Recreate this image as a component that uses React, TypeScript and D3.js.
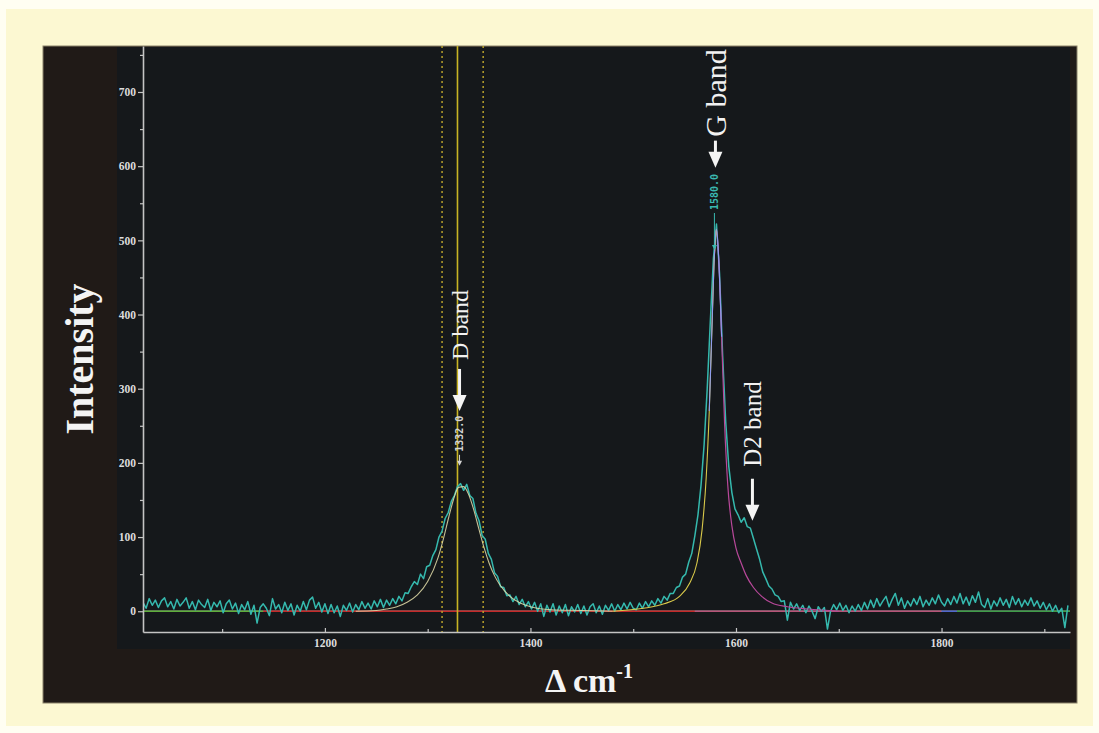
import React, { useEffect, useRef } from 'react';
import * as d3 from 'd3';

// Raman spectrum (intensity, one value every 3 cm-1 from 1023)
const RAMAN_START = 1023;
const RAMAN_STEP = 3;
const intensity: number[] = [
  // 1023–1140
  12, 4, 17, 8, 15, 5, 14, 18, 6, 13,
  3, 16, 7, 12, 18, 4, 13, 2, 15, 9,
  5, 16, 1, 12, 6, 14, -2, 10, 15, 3,
  11, -3, 9, 2, 13, -4, 8, -16, 5, 10,
  // 1143–1260
  4, -6, 17, 3, 9, -2, 12, 1, 10, -5,
  8, 0, 13, 2, 15, 19, 4, 12, -1, 10,
  -3, 9, -2, 7, -7, 8, 1, 11, -1, 9,
  2, 13, 4, 11, 3, 14, 6, 16, 5, 15,
  // 1263–1380 (D band)
  8, 17, 10, 20, 14, 25, 24, 33, 40, 36,
  50, 44, 60, 62, 75, 83, 100, 108, 125, 133,
  148, 156, 168, 172, 163, 171, 156, 152, 132, 122,
  102, 97, 78, 70, 52, 47, 33, 32, 21, 22,
  // 1383–1500
  13, 20, 9, 16, 6, 13, 3, 12, 0, 10,
  -7, 8, -1, 10, -5, 7, -2, 9, -6, 6,
  -1, 9, -3, 7, -5, 6, 10, -2, 7, -4,
  8, 1, 10, 0, 9, 2, 11, 3, 12, 4,
  // 1503–1620 (G band + D2 shoulder)
  2, 11, 4, 13, 6, 14, 8, 17, 11, 20,
  15, 24, 24, 32, 34, 46, 50, 66, 78, 102,
  130, 170, 225, 300, 390, 475, 522, 455, 345, 255,
  195, 160, 138, 130, 120, 126, 114, 112, 98, 84,
  // 1623–1740
  70, 53, 44, 34, 30, 22, 20, 13, 14, -12,
  12, 3, 10, 1, 8, -2, 7, 0, -10, 6,
  0, 5, -24, 0, 9, 2, 11, 1, 8, -2,
  7, 0, 9, 1, 12, 3, 15, 5, 17, 7,
  // 1743–1860
  14, 20, 6, 16, 24, 8, 18, 4, 14, 7,
  17, 9, 20, 6, 15, 8, 18, 10, 22, 12,
  7, 17, 9, 20, 11, 24, 10, 19, 8, 21,
  12, 26, 9, 5, 17, 3, 14, 7, 18, 8,
  // 1863–1923
  16, 5, 20, 9, 17, 6, 15, 8, 18, 7,
  14, 4, 12, 2, 10, 0, 8, -2, 4, -22, 8,
];

// fitted components
const dFitX = [1230, 1250, 1260, 1270, 1280, 1290, 1300, 1310, 1315, 1320, 1325, 1330, 1335, 1340, 1345, 1350, 1355, 1360, 1365, 1370, 1380, 1390, 1400, 1420, 1450, 1480];
const dFitY = [0, 1, 3, 6, 12, 22, 40, 72, 96, 124, 150, 167, 168, 157, 136, 110, 85, 64, 48, 36, 20, 11, 6, 2, 1, 0];
const gFitX = [1480, 1510, 1530, 1545, 1555, 1562, 1567, 1571, 1574, 1577, 1579, 1581, 1583, 1586, 1589, 1592, 1596, 1600, 1605, 1610, 1617, 1625, 1635, 1650, 1670, 1700];
const gFitY = [0, 4, 10, 20, 38, 65, 110, 180, 270, 400, 480, 515, 480, 370, 250, 170, 115, 85, 65, 48, 32, 20, 11, 6, 3, 0];

// axes
const xTicks = [1200, 1400, 1600, 1800];
const xMinorTicks = [1100, 1300, 1500, 1700, 1900];
const yTicks = [0, 100, 200, 300, 400, 500, 600, 700];
const yMinorTicks = [50, 150, 250, 350, 450, 550, 650, 750];

// D band cursor and window
const dMarker = 1329;
const dWindow = [1314, 1354];

// baseline pieces at zero
const baselineBreaks = [1023, 1140, 1560, 1800, 1815, 1925];
const BASELINE_COLORS = ['#5fae3c', '#c42a2a', '#b65478', '#4b63d0', '#3f9c48'];

// annotations
const bandLabels = ['D band', 'G band', 'D2 band'];
const bandPositions = [1331, 1580, 1616];
const bandArrowTips = [270, 598, 122];
const peakLabels = ['1332.0', '1580.0'];
const peakPositions = [1331, 1579];
const peakTips = [196, 487];

const W = 1099;
const H = 733;
const PLOT = { left: 143, right: 1070, top: 46, bottom: 632 };
const ARROW_LEN = [42, 27, 42];
const TEXT_GAP = [9, 4, 12];
const BAND_FONT = [24, 30, 25];
const PEAK_LINE = [11, 37];
const PEAK_COLORS = ['#d4d4d4', '#3ab8b0'];
const SERIF = "'Liberation Serif', 'DejaVu Serif', serif";

const App = () => {
  const svgRef = useRef<SVGSVGElement>(null);

  useEffect(() => {
    const svg = d3.select(svgRef.current);
    svg.selectAll('*').remove();

    // page + frame
    svg.append('rect').attr('width', W).attr('height', H).attr('fill', '#fffef2');
    svg.append('rect').attr('x', 6).attr('y', 9).attr('width', W - 12).attr('height', H - 16).attr('fill', '#fcf8d2');
    svg.append('rect')
      .attr('x', 43).attr('y', 46).attr('width', 1034).attr('height', 657)
      .attr('fill', '#201a17').attr('stroke', '#8a826a').attr('stroke-width', 1);
    svg.append('rect')
      .attr('x', 117).attr('y', 47).attr('width', 953).attr('height', 602)
      .attr('fill', '#15181b');

    const x = d3.scaleLinear().domain([1023, 1925]).range([PLOT.left, PLOT.right]);
    const y = d3.scaleLinear().domain([-28, 762]).range([PLOT.bottom, PLOT.top]);

    svg.append('clipPath').attr('id', 'plot-clip')
      .append('rect')
      .attr('x', PLOT.left).attr('y', PLOT.top)
      .attr('width', PLOT.right - PLOT.left).attr('height', PLOT.bottom - PLOT.top);

    const plot = svg.append('g').attr('clip-path', 'url(#plot-clip)');

    // zero line and coloured baseline
    plot.append('line')
      .attr('x1', PLOT.left).attr('x2', PLOT.right)
      .attr('y1', y(0)).attr('y2', y(0))
      .attr('stroke', '#9a9a9a').attr('stroke-width', 1.5);
    BASELINE_COLORS.forEach((c, i) => {
      plot.append('line')
        .attr('x1', x(baselineBreaks[i])).attr('x2', x(baselineBreaks[i + 1]))
        .attr('y1', y(0)).attr('y2', y(0))
        .attr('stroke', c).attr('stroke-width', 1.4);
    });

    // D band cursor lines
    plot.append('line')
      .attr('x1', x(dMarker)).attr('x2', x(dMarker))
      .attr('y1', PLOT.top).attr('y2', PLOT.bottom)
      .attr('stroke', '#c8b424').attr('stroke-width', 1.6);
    dWindow.forEach(v => {
      plot.append('line')
        .attr('x1', x(v)).attr('x2', x(v))
        .attr('y1', PLOT.top).attr('y2', PLOT.bottom)
        .attr('stroke', '#b9a22c').attr('stroke-width', 1.5)
        .attr('stroke-dasharray', '2,3');
    });

    // measured spectrum
    const dataLine = d3.line<number>()
      .x((_, i) => x(RAMAN_START + i * RAMAN_STEP))
      .y(d => y(d));
    plot.append('path')
      .datum(intensity)
      .attr('d', dataLine)
      .attr('fill', 'none')
      .attr('stroke', '#35b9ae')
      .attr('stroke-width', 1.5)
      .attr('stroke-linejoin', 'round');

    // fitted curves
    const fitLine = d3.line<[number, number]>()
      .x(d => x(d[0]))
      .y(d => y(d[1]))
      .curve(d3.curveMonotoneX);
    const dFit = dFitX.map((v, i) => [v, dFitY[i]] as [number, number]);
    const gFit = gFitX.map((v, i) => [v, gFitY[i]] as [number, number]);

    plot.append('path').datum(dFit).attr('d', fitLine)
      .attr('fill', 'none').attr('stroke', '#e4deaa').attr('stroke-width', 1.1).attr('opacity', 0.85);
    plot.append('path').datum(gFit.filter(d => d[0] >= 1579)).attr('d', fitLine)
      .attr('fill', 'none').attr('stroke', '#b8489a').attr('stroke-width', 1.2);
    plot.append('path').datum(gFit.filter(d => d[0] <= 1581)).attr('d', fitLine)
      .attr('fill', 'none').attr('stroke', '#d8c84a').attr('stroke-width', 1.1);
    plot.append('path').datum(gFit.filter(d => d[0] >= 1574 && d[0] <= 1586)).attr('d', fitLine)
      .attr('fill', 'none').attr('stroke', '#8e9cf0').attr('stroke-width', 1.1);

    // axes
    const axisColor = '#c4c4c4';
    const yAxis = svg.append('g')
      .attr('transform', `translate(${PLOT.left},0)`)
      .call(d3.axisLeft(y).tickValues(yTicks).tickFormat(d3.format('d')).tickSize(5).tickSizeOuter(0).tickPadding(2));
    svg.append('g')
      .attr('transform', `translate(${PLOT.left},0)`)
      .call(d3.axisLeft(y).tickValues(yMinorTicks).tickSize(3).tickFormat(() => ''))
      .call(g => g.select('.domain').remove());

    const xAxis = svg.append('g')
      .attr('transform', `translate(0,${PLOT.bottom})`)
      .call(d3.axisBottom(x).tickValues(xTicks).tickFormat(d3.format('d')).tickSize(-4).tickSizeOuter(0).tickPadding(7));
    svg.append('g')
      .attr('transform', `translate(0,${PLOT.bottom})`)
      .call(d3.axisBottom(x).tickValues(xMinorTicks).tickSize(-3).tickFormat(() => ''))
      .call(g => g.select('.domain').remove());

    svg.selectAll('.domain').attr('stroke', axisColor).attr('stroke-width', 1.6);
    svg.selectAll('.tick line').attr('stroke', axisColor).attr('stroke-width', 1.2);
    [yAxis, xAxis].forEach(a => {
      a.selectAll('text')
        .attr('fill', '#dcdcdc')
        .style('font-family', SERIF)
        .style('font-weight', 'bold')
        .style('font-size', '11.5px');
    });

    // band annotations
    bandLabels.forEach((label, i) => {
      const px = x(bandPositions[i]);
      const tip = y(bandArrowTips[i]);
      const top = tip - ARROW_LEN[i];
      svg.append('line')
        .attr('x1', px).attr('x2', px)
        .attr('y1', top).attr('y2', tip - 12)
        .attr('stroke', '#f4f4f4').attr('stroke-width', 3);
      svg.append('path')
        .attr('d', `M${px - 7},${tip - 16}L${px + 7},${tip - 16}L${px},${tip}Z`)
        .attr('fill', '#f4f4f4');
      svg.append('text')
        .attr('transform', `translate(${px},${top - TEXT_GAP[i]}) rotate(-90)`)
        .attr('text-anchor', 'start')
        .attr('dominant-baseline', 'central')
        .attr('fill', '#f2f2f2')
        .style('font-family', SERIF)
        .style('font-size', `${BAND_FONT[i]}px`)
        .text(label);
    });

    // peak position labels
    peakLabels.forEach((label, i) => {
      const px = x(peakPositions[i]);
      const tip = y(peakTips[i]);
      const top = tip - PEAK_LINE[i];
      svg.append('line')
        .attr('x1', px).attr('x2', px)
        .attr('y1', top).attr('y2', tip - 3)
        .attr('stroke', PEAK_COLORS[i]).attr('stroke-width', 1);
      svg.append('path')
        .attr('d', `M${px - 2.5},${tip - 5}L${px + 2.5},${tip - 5}L${px},${tip}Z`)
        .attr('fill', PEAK_COLORS[i]);
      svg.append('text')
        .attr('transform', `translate(${px},${top - 3}) rotate(-90)`)
        .attr('text-anchor', 'start')
        .attr('dominant-baseline', 'central')
        .attr('fill', PEAK_COLORS[i])
        .style('font-family', "'DejaVu Sans Mono', monospace")
        .style('font-weight', 'bold')
        .style('font-size', '10px')
        .text(label);
    });

    // axis titles
    svg.append('text')
      .attr('transform', 'translate(93,359) rotate(-90)')
      .attr('text-anchor', 'middle')
      .attr('fill', '#f4f4f4')
      .style('font-family', SERIF)
      .style('font-weight', 'bold')
      .style('font-size', '40px')
      .text('Intensity');

    const xt = svg.append('text')
      .attr('x', 545).attr('y', 692)
      .attr('fill', '#f4f4f4')
      .style('font-family', SERIF)
      .style('font-weight', 'bold')
      .style('font-size', '34px');
    xt.append('tspan').text('Δ cm');
    xt.append('tspan').attr('dy', -14).style('font-size', '20px').text('-1');
  }, []);

  return (
    <svg
      ref={svgRef}
      width={W}
      height={H}
      style={{ position: 'absolute', left: 0, top: 0, display: 'block' }}
    />
  );
};

export default App;
